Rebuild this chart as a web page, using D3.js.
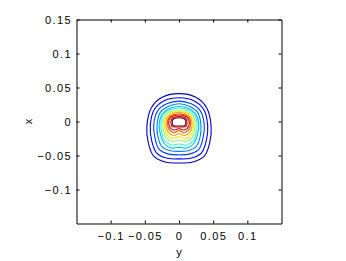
<!DOCTYPE html>
<html>
<head>
<meta charset="utf-8">
<script src="https://cdn.jsdelivr.net/npm/d3@7"></script>
<style>
body{margin:0;background:#fff}
svg{display:block}
text{font-family:"Liberation Sans",Arial,sans-serif;font-size:11px;fill:#000}
.ticklabels text{letter-spacing:1.4px}
</style>
</head>
<body>
<svg id="chart" width="346" height="261"></svg>
<script>
// axis ticks
const xTicks = [-0.1, -0.05, 0, 0.05, 0.1];
const xTickLabels = ["\u22120.1", "\u22120.05", "0", "0.05", "0.1"];
const yTicks = [-0.1, -0.05, 0, 0.05, 0.1, 0.15];
const yTickLabels = ["\u22120.1", "\u22120.05", "0", "0.05", "0.1", "0.15"];

// contour lines, outer to inner: [y, x] points
const level1 = [[0,.041],[.024,.036],[.040,.021],[.047,-.006],[.045,-.031],[.037,-.051],[.019,-.060],[0,-.061],[-.019,-.060],[-.037,-.051],[-.045,-.031],[-.047,-.006],[-.040,.021],[-.024,.036]];
const level2 = [[0,.035],[.021,.031],[.036,.018],[.042,-.006],[.040,-.028],[.033,-.046],[.017,-.054],[0,-.055],[-.017,-.054],[-.033,-.046],[-.040,-.028],[-.042,-.006],[-.036,.018],[-.021,.031]];
const level3 = [[0,.030],[.018,.026],[.031,.016],[.037,-.005],[.035,-.025],[.029,-.041],[.015,-.048],[0,-.049],[-.015,-.048],[-.029,-.041],[-.035,-.025],[-.037,-.005],[-.031,.016],[-.018,.026]];
const level4 = [[0,.026],[.016,.022],[.0275,.013],[.032,-.004],[.031,-.022],[.025,-.037],[.013,-.043],[0,-.044],[-.013,-.043],[-.025,-.037],[-.031,-.022],[-.032,-.004],[-.0275,.013],[-.016,.022]];
const level5 = [[0,.022],[.014,.019],[.024,.0115],[.029,-.004],[.027,-.0195],[.022,-.032],[.0115,-.039],[0,-.038],[-.0115,-.039],[-.022,-.032],[-.027,-.0195],[-.029,-.004],[-.024,.0115],[-.014,.019]];
const level6 = [[0,.0199],[.0132,.0172],[.0225,.0103],[.0265,-.0035],[.0251,-.0173],[.0206,-.0287],[.0106,-.0346],[0,-.0331],[-.0106,-.0346],[-.0206,-.0287],[-.0251,-.0173],[-.0265,-.0035],[-.0225,.0103],[-.0132,.0172]];
const level7 = [[0,.0169],[.0118,.0147],[.02,.0088],[.0235,-.0029],[.0224,-.0147],[.0184,-.0244],[.0094,-.0294],[0,-.0272],[-.0094,-.0294],[-.0184,-.0244],[-.0224,-.0147],[-.0235,-.0029],[-.02,.0088],[-.0118,.0147]];
const level8 = [[0,.0147],[.0107,.0128],[.0181,.0076],[.0213,-.0025],[.0203,-.0125],[.0166,-.0207],[.0085,-.025],[0,-.0221],[-.0085,-.025],[-.0166,-.0207],[-.0203,-.0125],[-.0213,-.0025],[-.0181,.0076],[-.0107,.0128]];
const level9 = [[0,.0132],[.0096,.0115],[.0162,.0069],[.0191,-.0021],[.0182,-.0103],[.0149,-.0171],[.0076,-.0206],[0,-.0176],[-.0076,-.0206],[-.0149,-.0171],[-.0182,-.0103],[-.0191,-.0021],[-.0162,.0069],[-.0096,.0115]];
const level10 = [[0,.011],[.0085,.0096],[.0144,.0057],[.0169,-.0016],[.016,-.0081],[.0132,-.0134],[.0068,-.0162],[0,-.0132],[-.0068,-.0162],[-.0132,-.0134],[-.016,-.0081],[-.0169,-.0016],[-.0144,.0057],[-.0085,.0096]];
const level11 = [[0,.0096],[.0076,.0083],[.0129,.005],[.0151,-.0013],[.0144,-.0063],[.0118,-.0104],[.006,-.0125],[0,-.0103],[-.006,-.0125],[-.0118,-.0104],[-.0144,-.0063],[-.0151,-.0013],[-.0129,.005],[-.0076,.0083]];
const level12 = [[0,.0074],[.0074,.0063],[.011,.0029],[.0118,-.0022],[.0103,-.0071],[.0051,-.0081],[0,-.0081],[-.0051,-.0081],[-.0103,-.0071],[-.0118,-.0022],[-.011,.0029],[-.0074,.0063]];
const level13 = [[0,.0056],[.0062,.0049],[.0093,.0022],[.01,-.0018],[.0088,-.0057],[.0044,-.0066],[0,-.0066],[-.0044,-.0066],[-.0088,-.0057],[-.01,-.0018],[-.0093,.0022],[-.0062,.0049]];

const contourLines = [level1, level2, level3, level4, level5, level6, level7, level8, level9, level10, level11, level12, level13];
const contourColors = ["#0000c8","#0000ff","#0040ff","#0080ff","#00c0ff","#30ffd0","#90ff70","#f0f000","#ffa000","#ff5000","#f00000","#b00000","#700000"];

const box = {left: 76.5, right: 281.5, top: 19.5, bottom: 223.5};

const svg = d3.select("#chart");

const x = d3.scaleLinear().domain([-0.15, 0.15]).range([box.left, box.right]);
const y = d3.scaleLinear().domain([-0.15, 0.15]).range([box.bottom, box.top]);

// contours
const line = d3.line()
	.x(d => x(d[0]))
	.y(d => y(d[1]))
	.curve(d3.curveCatmullRomClosed.alpha(0.5));

svg.append("g")
	.attr("class", "contours")
	.selectAll("path")
	.data(contourLines)
	.join("path")
		.attr("d", line)
		.attr("fill", "none")
		.attr("stroke", (d, i) => contourColors[i])
		.attr("stroke-width", 1.1);

// axes, ticks pointing in
function styleAxis(g){
	g.attr("class", "ticklabels");
	g.select(".domain").attr("stroke", "#000").attr("stroke-width", 1);
	g.selectAll(".tick line").attr("stroke", "#000");
	g.selectAll("text").attr("font-size", null).attr("font-family", null);
}

svg.append("g")
	.attr("transform", `translate(0,${box.bottom})`)
	.call(d3.axisBottom(x).tickValues(xTicks).tickFormat((d, i) => xTickLabels[i])
		.tickSizeInner(-3).tickSizeOuter(0).tickPadding(9))
	.call(styleAxis);

svg.append("g")
	.attr("transform", `translate(0,${box.top})`)
	.call(d3.axisTop(x).tickValues(xTicks).tickFormat("")
		.tickSizeInner(-3).tickSizeOuter(0))
	.call(styleAxis);

svg.append("g")
	.attr("transform", `translate(${box.left},0)`)
	.call(d3.axisLeft(y).tickValues(yTicks).tickFormat((d, i) => yTickLabels[i])
		.tickSizeInner(-3).tickSizeOuter(0).tickPadding(4.5))
	.call(styleAxis);

svg.append("g")
	.attr("transform", `translate(${box.right},0)`)
	.call(d3.axisRight(y).tickValues(yTicks).tickFormat("")
		.tickSizeInner(-3).tickSizeOuter(0))
	.call(styleAxis);

// axis labels
svg.append("text")
	.attr("x", x(0))
	.attr("y", 255.5)
	.attr("text-anchor", "middle")
	.text("y");

svg.append("text")
	.attr("transform", `translate(28.5,${y(0)}) rotate(-90)`)
	.attr("text-anchor", "middle")
	.attr("dy", "0.32em")
	.text("x");
</script>
</body>
</html>
